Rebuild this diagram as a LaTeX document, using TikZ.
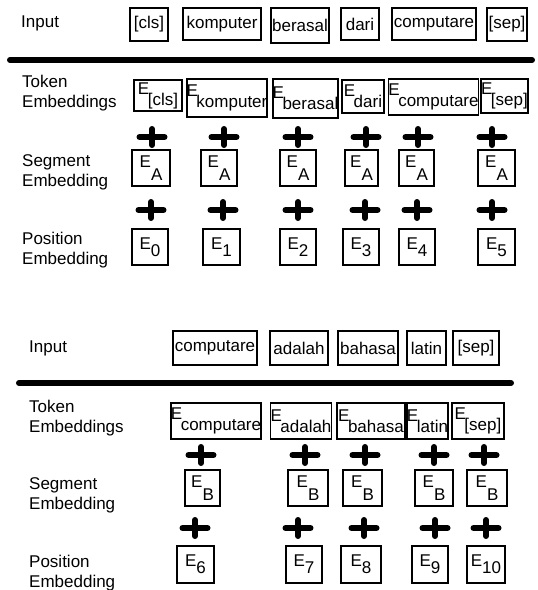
\documentclass[tikz,border=0pt]{standalone}
\usepackage{fontspec}
\setmainfont{Liberation Sans}
\usepackage{tikz}
\def\plus(#1,#2){\draw[line width=6pt,line cap=round] (#1-12.5,#2) -- (#1+12.5,#2) (#1,#2-8) -- (#1,#2+8);}
\newcommand\Esub[3][0]{E\kern-#1pt\raisebox{-#2pt}{#3}}

\begin{document}
\begin{tikzpicture}[x=1pt,y=-1pt,
	box/.style={draw,line width=1.8pt,inner sep=0pt,font=\fontsize{17}{19}\selectfont},
	lbl/.style={anchor=west,align=left,inner sep=0pt,font=\fontsize{17}{20}\selectfont}]
			%%%%% START %%%%%
			\def\tk{11}
			\def\sg{13}
			\def\ps{7}
			\useasboundingbox (0,0) rectangle (538,590);

			% first sentence
			\node[lbl] (inputa) at (21,23) {Input};
			\node[box,minimum width=38,minimum height=33] (ina1) at (149,24.5) {[cls]};
			\node[box,minimum width=78,minimum height=32] (ina2) at (222,24) {komputer};
			\node[box,minimum width=58,minimum height=35] (ina3) at (300,25.5) {berasal};
			\node[box,minimum width=38,minimum height=32] (ina4) at (360,24) {dari};
			\node[box,minimum width=84,minimum height=32] (ina5) at (434,24) {computare};
			\node[box,minimum width=40,minimum height=33] (ina6) at (507,24.5) {[sep]};

			\draw[line width=6pt,line cap=round] (10,60) -- (532,60);

			\node[lbl] (tokena) at (22,93) {Token\\Embeddings};
			\node[box,minimum width=48,minimum height=31] (toka1) at (158,95.5) {\Esub[1.5]{\tk}{[cls]}};
			\node[box,minimum width=80,minimum height=38] (toka2) at (227,98) {\Esub[1.5]{\tk}{komputer}};
			\node[box,minimum width=65,minimum height=39] (toka3) at (305.5,98.5) {\Esub[1.5]{\tk}{berasal}};
			\node[box,minimum width=42,minimum height=33] (toka4) at (363,96.5) {\Esub[1.5]{\tk}{dari}};
			\node[box,minimum width=89,minimum height=36] (toka5) at (433.5,97) {\Esub[1.5]{\tk}{computare}};
			\node[box,minimum width=45,minimum height=34] (toka6) at (504.5,96) {\Esub[1.5]{\tk}{[sep]}};

			\plus(152,137) \plus(224,137) \plus(298,137) \plus(366,137) \plus(418,137) \plus(492,137)

			\node[lbl] (segmenta) at (22,172) {Segment\\Embedding};
			\node[box,minimum width=38,minimum height=36] (sega1) at (151,168) {\Esub{\sg}{A}};
			\node[box,minimum width=36,minimum height=36] (sega2) at (219,168) {\Esub{\sg}{A}};
			\node[box,minimum width=36,minimum height=36] (sega3) at (298,168) {\Esub{\sg}{A}};
			\node[box,minimum width=33,minimum height=36] (sega4) at (361.5,168) {\Esub{\sg}{A}};
			\node[box,minimum width=35,minimum height=36] (sega5) at (416.5,168) {\Esub{\sg}{A}};
			\node[box,minimum width=37,minimum height=36] (sega6) at (496.5,168) {\Esub{\sg}{A}};

			\plus(151,210) \plus(223,210) \plus(298,210) \plus(365,210) \plus(417,210) \plus(492,210)

			\node[lbl] (positiona) at (22,250) {Position\\Embedding};
			\node[box,minimum width=36,minimum height=36] (posa1) at (150,247) {\Esub{\ps}{0}};
			\node[box,minimum width=37,minimum height=36] (posa2) at (221.5,247) {\Esub{\ps}{1}};
			\node[box,minimum width=36,minimum height=36] (posa3) at (298,247) {\Esub{\ps}{2}};
			\node[box,minimum width=36,minimum height=36] (posa4) at (361,247) {\Esub{\ps}{3}};
			\node[box,minimum width=36,minimum height=36] (posa5) at (417,247) {\Esub{\ps}{4}};
			\node[box,minimum width=37,minimum height=36] (posa6) at (496.5,247) {\Esub{\ps}{5}};

			% second sentence
			\node[lbl] (inputb) at (29,348) {Input};
			\node[box,minimum width=84,minimum height=34] (inb1) at (215,348) {computare};
			\node[box,minimum width=58,minimum height=34] (inb2) at (299,348) {adalah};
			\node[box,minimum width=60,minimum height=34] (inb3) at (368,348) {bahasa};
			\node[box,minimum width=39,minimum height=34] (inb4) at (426.5,348) {latin};
			\node[box,minimum width=46,minimum height=34] (inb5) at (476,348) {[sep]};

			\draw[line width=6pt,line cap=round] (19,383) -- (511,383);

			\node[lbl] (tokenb) at (29,418) {Token\\Embeddings};
			\node[box,minimum width=90,minimum height=36] (tokb1) at (216,421) {\Esub[1.5]{\tk}{computare}};
			\node[box,minimum width=60,minimum height=36] (tokb2) at (301,421) {\Esub[1.5]{\tk}{adalah}};
			\node[box,minimum width=68,minimum height=36] (tokb3) at (371,421) {\Esub[1.5]{\tk}{bahasa}};
			\node[box,minimum width=41,minimum height=36] (tokb4) at (427.5,421) {\Esub[1.5]{\tk}{latin}};
			\node[box,minimum width=52,minimum height=36] (tokb5) at (478,421) {\Esub[1.5]{\tk}{[sep]}};

			\plus(201,455) \plus(305,455) \plus(365,455) \plus(434,455) \plus(484,455)

			\node[lbl] (segmentb) at (29,495) {Segment\\Embedding};
			\node[box,minimum width=35,minimum height=36] (segb1) at (202.5,488) {\Esub{\sg}{B}};
			\node[box,minimum width=40,minimum height=36] (segb2) at (308,488) {\Esub{\sg}{B}};
			\node[box,minimum width=39,minimum height=36] (segb3) at (362.5,488) {\Esub{\sg}{B}};
			\node[box,minimum width=38,minimum height=36] (segb4) at (434,488) {\Esub{\sg}{B}};
			\node[box,minimum width=40,minimum height=36] (segb5) at (487,488) {\Esub{\sg}{B}};

			\plus(195,528) \plus(298,528) \plus(364,528) \plus(435,528) \plus(486,528)

			\node[lbl] (positionb) at (29,573) {Position\\Embedding};
			\node[box,minimum width=37,minimum height=37] (posb1) at (195.5,564.5) {\Esub{\ps}{6}};
			\node[box,minimum width=36,minimum height=37] (posb2) at (304,564.5) {\Esub{\ps}{7}};
			\node[box,minimum width=40,minimum height=37] (posb3) at (361,564.5) {\Esub{\ps}{8}};
			\node[box,minimum width=36,minimum height=37] (posb4) at (430,564.5) {\Esub{\ps}{9}};
			\node[box,minimum width=38,minimum height=37] (posb5) at (486,564.5) {\Esub{\ps}{10}};
			%%%%% END %%%%%
\end{tikzpicture}
\end{document}
